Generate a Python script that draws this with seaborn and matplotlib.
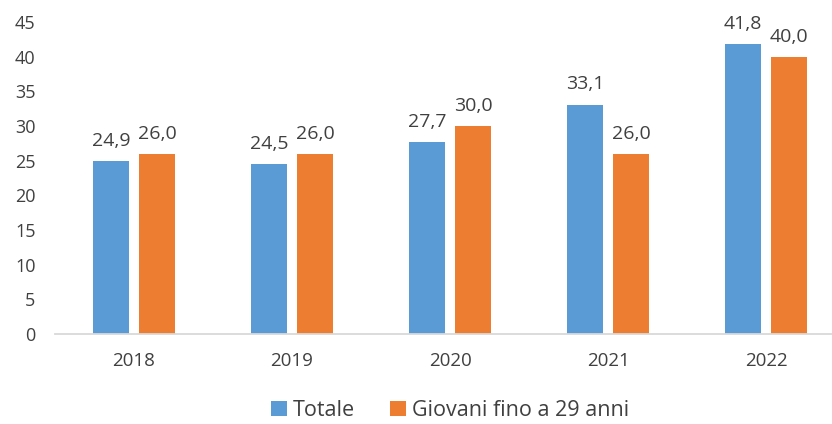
import matplotlib
matplotlib.use("Agg")
import matplotlib.pyplot as plt
import seaborn as sns
import pandas as pd

years = ["2018", "2019", "2020", "2021", "2022"]
totale = [24.9, 24.5, 27.7, 33.1, 41.8]
giovani = [26.0, 26.0, 30.0, 26.0, 40.0]
series_names = ["Totale", "Giovani fino a 29 anni"]
yticks = [0, 5, 10, 15, 20, 25, 30, 35, 40, 45]

df = pd.DataFrame({
    "anno": years * 2,
    "valore": totale + giovani,
    "serie": [series_names[0]] * len(years) + [series_names[1]] * len(years),
})

sns.set_theme(style="white")
plt.rcParams["font.family"] = ["Open Sans", "DejaVu Sans"]
text_color = "#404040"

fig = plt.figure(figsize=(8.32, 4.24), dpi=100)
ax = fig.add_axes([55 / 832, (424 - 334) / 424, 790 / 832, 312 / 424])

sns.barplot(data=df, x="anno", y="valore", hue="serie",
            palette=["#5B9BD5", "#ED7D31"], width=0.58, gap=0.2,
            saturation=1, linewidth=0, ax=ax, legend=True)

for c in ax.containers:
    ax.bar_label(c, labels=[f"{v:.1f}".replace(".", ",") for v in c.datavalues],
                 padding=8, fontsize=14, color=text_color)

ax.set_ylim(0, 45)
ax.set_yticks(yticks)
ax.set_xlim(-0.5, 4.5)
ax.set_xlabel("")
ax.set_ylabel("")
for s in ["top", "right", "left"]:
    ax.spines[s].set_visible(False)
ax.spines["bottom"].set_color("#D9D9D9")
ax.spines["bottom"].set_linewidth(1.3)
ax.tick_params(axis="y", length=0, pad=14, labelsize=13, labelcolor=text_color)
ax.tick_params(axis="x", length=0, pad=13, labelsize=13.5, labelcolor=text_color)

ax.legend(loc="center", bbox_to_anchor=(0.5, -0.245), ncol=2, frameon=False,
          fontsize=15.5, labelcolor=text_color, handlelength=0.75, handleheight=0.75,
          handletextpad=0.3, columnspacing=1.6)

fig.savefig("out.png", dpi=100)
